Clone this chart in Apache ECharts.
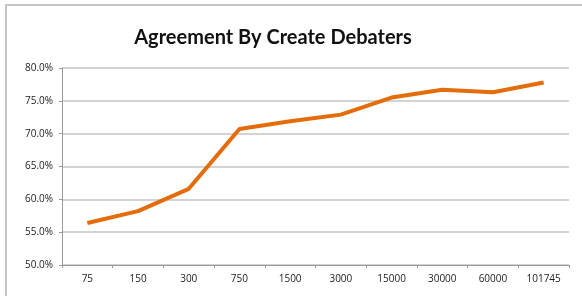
<!DOCTYPE html>
<html>
<head>
<meta charset="utf-8">
<script src="https://cdn.jsdelivr.net/npm/echarts@6/dist/echarts.min.js"></script>
<style>
  html, body { margin: 0; padding: 0; background: #fff; }
  #chart { width: 582px; height: 296px; }
</style>
</head>
<body>
<div id="chart"></div>
<script>
const titleText = "Agreement By Create Debaters"
const categories = ["75", "150", "300", "750", "1500", "3000", "15000", "30000", "60000", "101745"]
const agreement = [56.4, 58.2, 61.6, 70.7, 71.9, 72.9, 75.5, 76.7, 76.3, 77.8]
const yTicks = { min: 50, max: 80, interval: 5 }

const myChart = echarts.init(document.getElementById("chart"))

const option = {
  animation: false,
  title: {
    text: titleText,
    left: 268,
    textAlign: "center",
    top: 23,
    textStyle: {
      fontFamily: "Lato",
      fontSize: 20,
      fontWeight: "bold",
      color: "#111",
    },
  },
  // chart frame
  graphic: [
    {
      type: "rect",
      shape: { x: 6, y: 5, width: 620, height: 340 },
      style: { fill: "none", stroke: "#c6c6c6", lineWidth: 2 },
      silent: true,
    },
  ],
  grid: {
    left: 62,
    right: 13,
    top: 68,
    bottom: 31,
  },
  xAxis: {
    type: "category",
    data: categories,
    boundaryGap: true,
    axisLine: { lineStyle: { color: "#999", width: 1 } },
    axisTick: { show: true, length: 3, lineStyle: { color: "#999" } },
    axisLabel: {
      color: "#222",
      fontFamily: "Open Sans",
      fontSize: 10,
      margin: 9,
    },
  },
  yAxis: {
    type: "value",
    min: yTicks.min,
    max: yTicks.max,
    interval: yTicks.interval,
    axisLine: { show: true, lineStyle: { color: "#999", width: 1 } },
    axisTick: { show: true, length: 3, lineStyle: { color: "#999" } },
    axisLabel: {
      color: "#222",
      fontFamily: "Open Sans",
      fontSize: 10,
      margin: 9,
      formatter: (v) => v.toFixed(1) + "%",
    },
    splitLine: { lineStyle: { color: "#c4c4c4", width: 1.5 } },
  },
  series: [
    {
      type: "line",
      data: agreement,
      symbol: "none",
      lineStyle: { color: "#e46c0a", width: 4 },
    },
  ],
}

myChart.setOption(option)
</script>
</body>
</html>
